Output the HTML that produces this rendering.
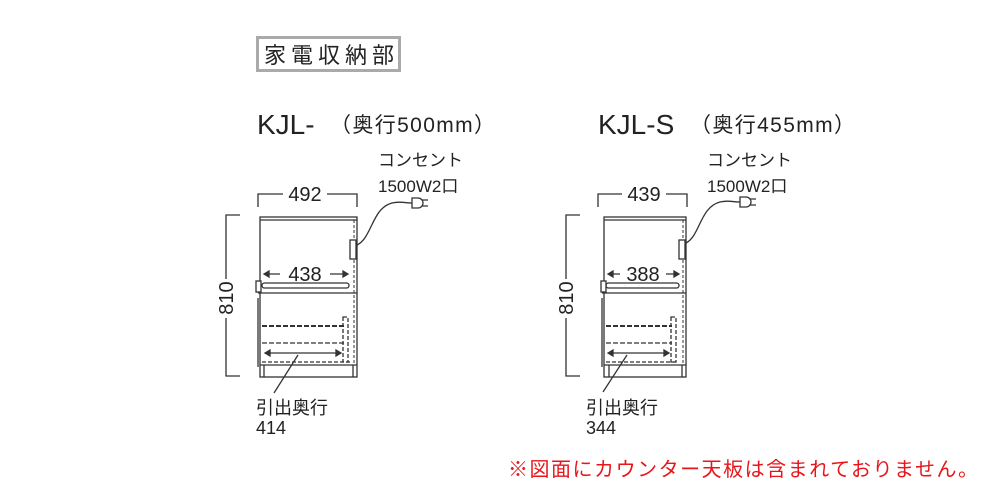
<!DOCTYPE html>
<html><head><meta charset="utf-8"><style>
html,body{margin:0;padding:0;background:#fff;}
svg{display:block;}
text{font-family:"Liberation Sans","Noto Sans CJK JP",sans-serif;fill:#222;}
</style></head><body>
<svg width="1000" height="500" viewBox="0 0 1000 500" xmlns="http://www.w3.org/2000/svg">
<rect x="257.5" y="37.5" width="142" height="33" fill="#fff" stroke="#aaa" stroke-width="3"/>
<text x="264" y="63" font-size="22" textLength="130">家電収納部</text>
<text x="257" y="134" font-size="28">KJL-</text>
<text x="330" y="132" font-size="21" textLength="165">（奥行500mm）</text>
<text x="598" y="134" font-size="28">KJL-S</text>
<text x="690" y="132" font-size="21" textLength="165">（奥行455mm）</text>
<text x="378" y="166" font-size="17">コンセント</text>
<text x="378" y="192" font-size="17">1500W2口</text>
<text x="707" y="166" font-size="17">コンセント</text>
<text x="707" y="192" font-size="17">1500W2口</text>

<g stroke="#333" stroke-width="1.3" fill="none">
<!-- LEFT -->
<path d="M258 207V194H283M327 194H357V207"/>
<path d="M240 215H226V279M226 318V376H240"/>
<rect x="260" y="217" width="97" height="160" fill="#fff"/>
<line x1="260" y1="220" x2="357" y2="220"/>
<line x1="354" y1="220" x2="354" y2="365" stroke-dasharray="3,2" stroke-width="1"/>
<rect x="350" y="240" width="6" height="19" fill="#fff"/>
<path d="M357 245C372 238 372 208 392 203C400 201 405 203 412 203"/>
<path d="M412 198h6a4 4 0 0 1 0 10h-6z" fill="#fff"/>
<path d="M422 200h6M422 206h6"/>
<path d="M266 274H280M330 274H346"/><path d="M264 274l5-3v6z M348 274l-5-3v6z" fill="#333"/>
<rect x="262" y="283" width="87" height="5" rx="2.5"/>
<rect x="256" y="281" width="5" height="11" fill="#fff"/>
<line x1="258" y1="293" x2="357" y2="293"/>
<line x1="258" y1="298" x2="258" y2="367"/>
<path d="M262 326H345" stroke-dasharray="5,2" stroke-width="2"/>
<path d="M262 343H345" stroke-dasharray="5,2"/>
<path d="M262 362H350" stroke-dasharray="4,2"/>
<rect x="343" y="317" width="5" height="45" stroke-dasharray="4,2"/>
<path d="M268 353H338"/><path d="M265 353l5-3v6z M341 353l-5-3v6z" fill="#333"/>
<line x1="260" y1="365" x2="357" y2="365"/>
<path d="M264 365V377M353 365V377"/>
<line x1="298" y1="355" x2="274" y2="393"/>

<!-- RIGHT -->
<path d="M598 207V194H622M666 194H687V207"/>
<path d="M580 215H566V279M566 318V376H580"/>
<rect x="604" y="217" width="82" height="160" fill="#fff"/>
<line x1="604" y1="220" x2="686" y2="220"/>
<line x1="683" y1="220" x2="683" y2="365" stroke-dasharray="3,2" stroke-width="1"/>
<rect x="679" y="240" width="6" height="19" fill="#fff"/>
<path d="M686 243C700 236 700 207 720 202C728 200 733 202 740 202"/>
<path d="M740 197h6a4 4 0 0 1 0 10h-6z" fill="#fff"/>
<path d="M750 199h6M750 205h6"/>
<path d="M611 274H620M666 274H676"/><path d="M608 274l5-3v6z M679 274l-5-3v6z" fill="#333"/>
<rect x="606" y="283" width="73" height="5" rx="2.5"/>
<rect x="601" y="281" width="5" height="11" fill="#fff"/>
<line x1="602" y1="293" x2="686" y2="293"/>
<line x1="602" y1="298" x2="602" y2="367"/>
<path d="M606 326H672" stroke-dasharray="5,2" stroke-width="2"/>
<path d="M606 343H672" stroke-dasharray="5,2"/>
<path d="M606 362H678" stroke-dasharray="4,2"/>
<rect x="671" y="317" width="5" height="45" stroke-dasharray="4,2"/>
<path d="M611 353H666"/><path d="M608 353l5-3v6z M669 353l-5-3v6z" fill="#333"/>
<line x1="604" y1="365" x2="686" y2="365"/>
<path d="M609 365V377M682 365V377"/>
<line x1="627" y1="355" x2="603" y2="392"/>
</g>
<text x="305" y="201" font-size="20" text-anchor="middle">492</text>
<text x="305" y="281" font-size="20" text-anchor="middle">438</text>
<text transform="translate(233,298) rotate(-90)" font-size="20" text-anchor="middle">810</text>
<text x="644" y="201" font-size="20" text-anchor="middle">439</text>
<text x="643" y="281" font-size="20" text-anchor="middle">388</text>
<text transform="translate(573,298) rotate(-90)" font-size="20" text-anchor="middle">810</text>
<text x="256" y="414" font-size="18">引出奥行</text>
<text x="256" y="434" font-size="18">414</text>
<text x="586" y="414" font-size="18">引出奥行</text>
<text x="586" y="434" font-size="18">344</text>
<text x="508" y="476" font-size="20" textLength="470" style="fill:#e8161b">※図面にカウンター天板は含まれておりません。</text>
</svg>
</body></html>
